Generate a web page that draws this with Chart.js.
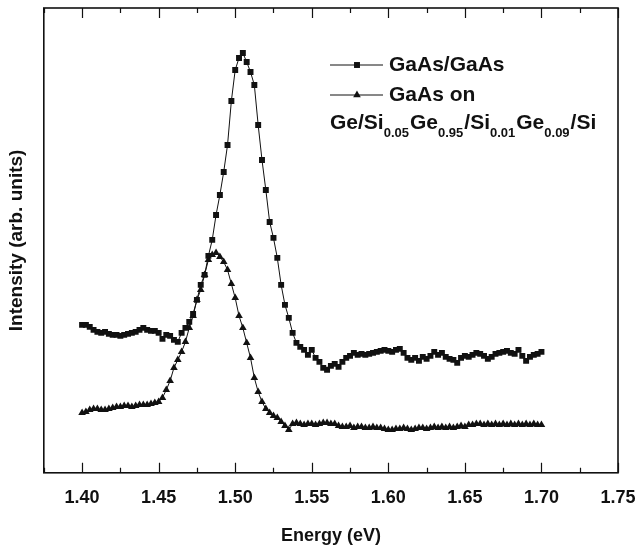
<!DOCTYPE html>
<html lang="en">

<head>
    <meta charset="UTF-8">
    <title>GaAs PL spectra</title>
    <script src="https://cdn.jsdelivr.net/npm/chart.js"></script>
    <style>
        body {
            margin: 0;
            background: #fff;
        }
    </style>
</head>

<body>
    <canvas id="plChart" width="639" height="549"></canvas>

    <script>
        // photon energy (eV) of every sample
        const energy = [
            1.4000, 1.4025, 1.4050, 1.4075, 1.4100, 1.4125, 1.4150, 1.4175, 1.4200, 1.4225,
            1.4250, 1.4275, 1.4300, 1.4325, 1.4350, 1.4375, 1.4400, 1.4425, 1.4450, 1.4475,
            1.4500, 1.4525, 1.4550, 1.4575, 1.4600, 1.4625, 1.4650, 1.4675, 1.4700, 1.4725,
            1.4750, 1.4775, 1.4800, 1.4825, 1.4850, 1.4875, 1.4900, 1.4925, 1.4950, 1.4975,
            1.5000, 1.5025, 1.5050, 1.5075, 1.5100, 1.5125, 1.5150, 1.5175, 1.5200, 1.5225,
            1.5250, 1.5275, 1.5300, 1.5325, 1.5350, 1.5375, 1.5400, 1.5425, 1.5450, 1.5475,
            1.5500, 1.5525, 1.5550, 1.5575, 1.5600, 1.5625, 1.5650, 1.5675, 1.5700, 1.5725,
            1.5750, 1.5775, 1.5800, 1.5825, 1.5850, 1.5875, 1.5900, 1.5925, 1.5950, 1.5975,
            1.6000, 1.6025, 1.6050, 1.6075, 1.6100, 1.6125, 1.6150, 1.6175, 1.6200, 1.6225,
            1.6250, 1.6275, 1.6300, 1.6325, 1.6350, 1.6375, 1.6400, 1.6425, 1.6450, 1.6475,
            1.6500, 1.6525, 1.6550, 1.6575, 1.6600, 1.6625, 1.6650, 1.6675, 1.6700, 1.6725,
            1.6750, 1.6775, 1.6800, 1.6825, 1.6850, 1.6875, 1.6900, 1.6925, 1.6950, 1.6975,
            1.7000
        ];

        // GaAs/GaAs (squares)
        const gaasOnGaas = [
            148, 148, 146, 143, 141, 140, 141, 139, 138, 138,
            137, 138, 139, 140, 141, 143, 145, 143, 142, 142,
            140, 134, 138, 137, 133, 131, 140, 145, 151, 159,
            173, 188, 198, 217, 233, 258, 278, 301, 328, 372,
            403, 415, 420, 411, 401, 388, 348, 313, 283, 251,
            235, 215, 188, 168, 155, 140, 130, 126, 123, 118,
            123, 115, 111, 105, 103, 107, 109, 106, 111, 115,
            117, 120, 118, 119, 118, 119, 120, 121, 122, 123,
            122, 121, 123, 124, 120, 115, 113, 115, 112, 116,
            114, 117, 121, 118, 120, 116, 114, 113, 110, 115,
            117, 116, 118, 120, 119, 117, 114, 116, 119, 120,
            121, 122, 120, 119, 123, 117, 112, 116, 118, 119,
            121
        ];

        // GaAs on Ge/SiGe/Si (triangles)
        const gaasOnSi = [
            60, 61, 63, 64, 64, 63, 63, 64, 65, 66,
            66, 67, 67, 66, 67, 68, 68, 68, 69, 70,
            71, 75, 83, 92, 105, 113, 121, 131, 145, 157,
            173, 183, 198, 213, 218, 220, 216, 211, 203, 189,
            175, 157, 145, 130, 115, 95, 81, 71, 64, 60,
            57, 55, 51, 47, 43, 49, 50, 49, 48, 49,
            49, 48, 49, 50, 50, 49, 49, 47, 46, 46,
            47, 45, 46, 46, 45, 45, 46, 45, 45, 44,
            43, 43, 44, 44, 45, 44, 43, 44, 45, 45,
            44, 45, 46, 45, 46, 45, 46, 45, 46, 47,
            46, 48, 48, 49, 49, 48, 49, 48, 49, 48,
            49, 48, 49, 48, 49, 48, 49, 48, 49, 48,
            48
        ];

        const xTicks = [1.40, 1.45, 1.50, 1.55, 1.60, 1.65, 1.70, 1.75];
        const xMinorTicks = [1.375, 1.425, 1.475, 1.525, 1.575, 1.625, 1.675, 1.725];

        const seriesLabels = ['GaAs/GaAs', 'GaAs on'];
        // second legend entry continues on a line with subscripts: [text, isSubscript]
        const legendSubLine = [
            ['Ge/Si', false], ['0.05', true], ['Ge', false], ['0.95', true],
            ['/Si', false], ['0.01', true], ['Ge', false], ['0.09', true], ['/Si', false]
        ];

        const FONT = "'Liberation Sans', Arial, sans-serif";

        function toPoints(ys) {
            return ys.map((y, i) => ({ x: energy[i], y: y }));
        }

        // frame box and inward tick marks on top/bottom
        const frameTicks = {
            id: 'frameTicks',
            afterDraw(chart) {
                const ctx = chart.ctx;
                const a = chart.chartArea;
                const xs = chart.scales.x;
                ctx.save();
                ctx.strokeStyle = '#111';
                ctx.lineWidth = 1.6;
                ctx.strokeRect(a.left, a.top, a.right - a.left, a.bottom - a.top);
                ctx.lineWidth = 1.2;
                ctx.beginPath();
                xTicks.forEach(v => {
                    const px = Math.round(xs.getPixelForValue(v)) + 0.5;
                    ctx.moveTo(px, a.bottom); ctx.lineTo(px, a.bottom - 10);
                    ctx.moveTo(px, a.top); ctx.lineTo(px, a.top + 10);
                });
                xMinorTicks.forEach(v => {
                    const px = Math.round(xs.getPixelForValue(v)) + 0.5;
                    ctx.moveTo(px, a.bottom); ctx.lineTo(px, a.bottom - 5);
                    ctx.moveTo(px, a.top); ctx.lineTo(px, a.top + 5);
                });
                ctx.stroke();
                ctx.restore();
            }
        };

        // legend drawn by hand because of the subscripted label
        const richLegend = {
            id: 'richLegend',
            afterDraw(chart) {
                const ctx = chart.ctx;
                const styles = ['rect', 'triangle'];
                const radii = [4.2, 4.4];
                const rows = [65, 95];
                ctx.save();
                ctx.fillStyle = '#111';
                ctx.strokeStyle = '#111';
                ctx.textBaseline = 'middle';
                rows.forEach((y, i) => {
                    ctx.lineWidth = 1;
                    ctx.beginPath();
                    ctx.moveTo(330, y); ctx.lineTo(383, y);
                    ctx.stroke();
                    Chart.helpers.drawPoint(ctx, { pointStyle: styles[i], radius: radii[i], rotation: 0, borderWidth: 0 }, 357, y);
                    ctx.font = 'bold 21px ' + FONT;
                    ctx.fillText(seriesLabels[i], 389, y);
                });
                let x = 330;
                const y = 123;
                legendSubLine.forEach(([txt, sub]) => {
                    ctx.font = sub ? 'bold 13px ' + FONT : 'bold 21px ' + FONT;
                    ctx.fillText(txt, x, sub ? y + 10 : y);
                    x += ctx.measureText(txt).width + (sub ? 1 : 0);
                });
                ctx.restore();
            }
        };

        const ctx = document.getElementById('plChart').getContext('2d');
        new Chart(ctx, {
            type: 'line',
            data: {
                datasets: [
                    {
                        label: seriesLabels[0],
                        data: toPoints(gaasOnGaas),
                        borderColor: '#111',
                        backgroundColor: '#111',
                        borderWidth: 1,
                        pointStyle: 'rect',
                        pointRadius: 4.2,
                        pointBorderWidth: 0,
                        tension: 0
                    },
                    {
                        label: seriesLabels[1],
                        data: toPoints(gaasOnSi),
                        borderColor: '#111',
                        backgroundColor: '#111',
                        borderWidth: 1,
                        pointStyle: 'triangle',
                        pointRadius: 4.4,
                        pointBorderWidth: 0,
                        tension: 0
                    }
                ]
            },
            options: {
                responsive: false,
                animation: false,
                layout: { padding: { left: 5, right: 21, top: 8, bottom: 2 } },
                plugins: {
                    legend: { display: false },
                    tooltip: { enabled: false }
                },
                scales: {
                    x: {
                        type: 'linear',
                        min: 1.375,
                        max: 1.75,
                        afterBuildTicks: (scale) => { scale.ticks = xTicks.map(v => ({ value: v })); },
                        afterFit: (scale) => { scale.paddingLeft = 0; scale.paddingRight = 0; },
                        grid: { display: false, drawTicks: false },
                        border: { display: false },
                        ticks: {
                            color: '#111',
                            font: { family: FONT, size: 18, weight: 'bold' },
                            padding: 14,
                            maxRotation: 0,
                            callback: (v) => v.toFixed(2)
                        },
                        title: {
                            display: true,
                            text: 'Energy (eV)',
                            color: '#111',
                            font: { family: FONT, size: 18, weight: 'bold' },
                            padding: { top: 3, bottom: 0 }
                        }
                    },
                    y: {
                        min: 0,
                        max: 465,
                        grid: { display: false, drawTicks: false },
                        border: { display: false },
                        ticks: { display: false },
                        title: {
                            display: true,
                            text: 'Intensity (arb. units)',
                            color: '#111',
                            font: { family: FONT, size: 19, weight: 'bold' },
                            padding: { top: 0, bottom: 16 }
                        }
                    }
                }
            },
            plugins: [frameTicks, richLegend]
        });
    </script>
</body>

</html>
